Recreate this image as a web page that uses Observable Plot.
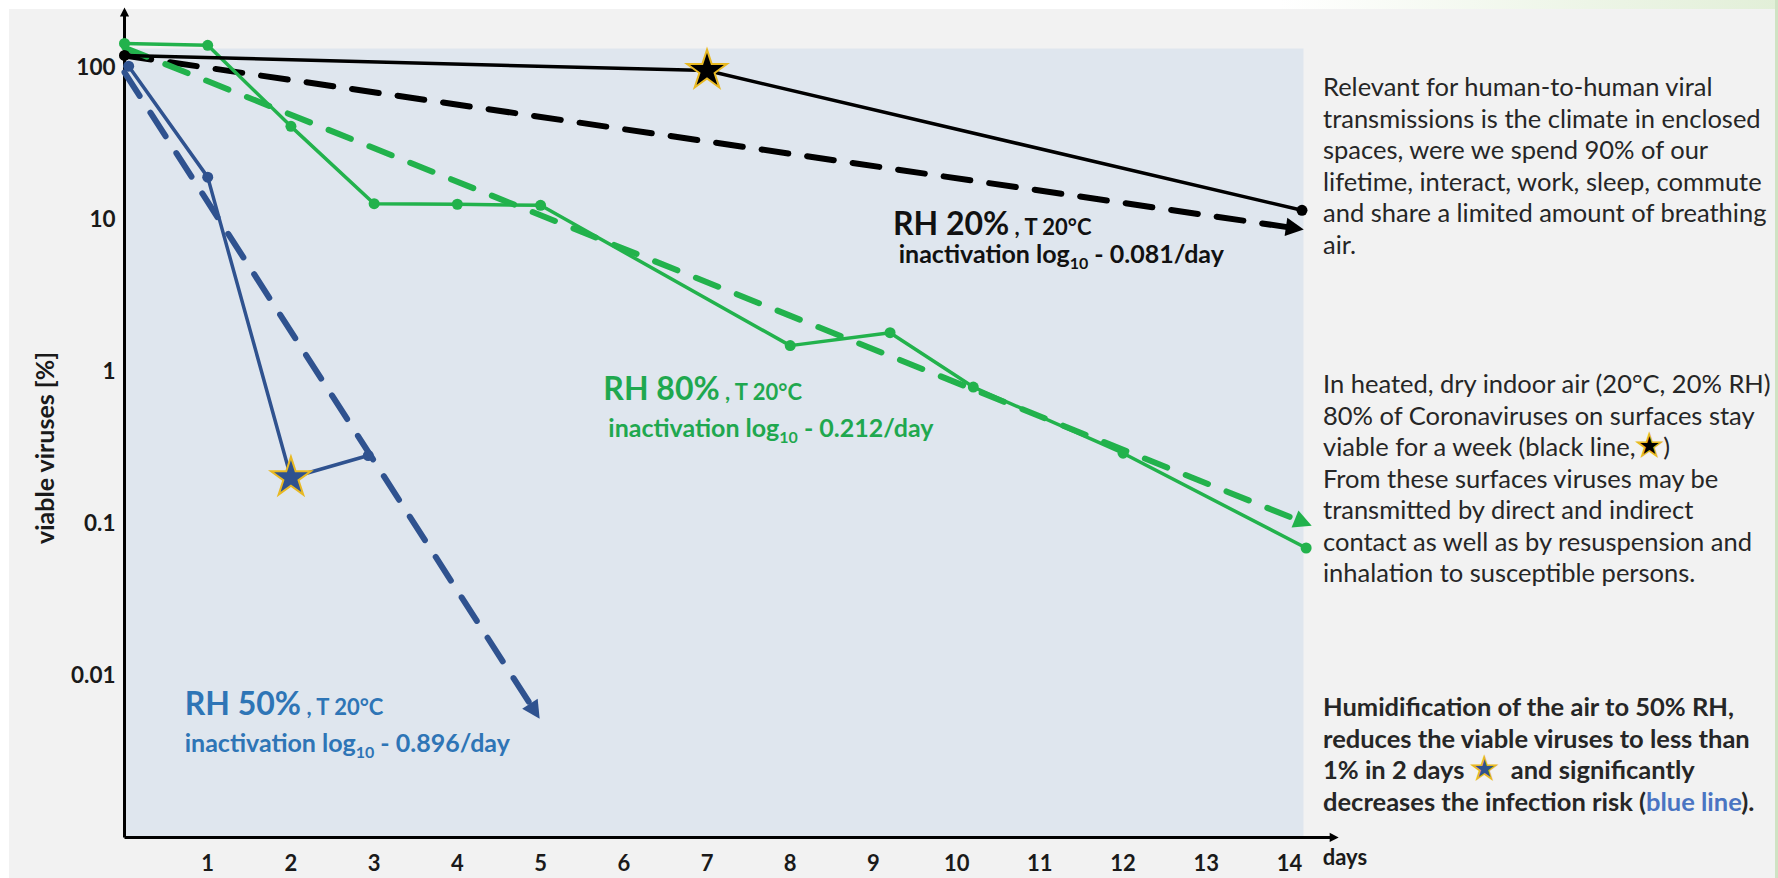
<!DOCTYPE html>
<html><head><meta charset="utf-8">
<script src="https://cdn.jsdelivr.net/npm/d3@7"></script>
<script src="https://cdn.jsdelivr.net/npm/@observablehq/plot@0.6"></script>
<style>
body{margin:0;background:#fff;font-family:Lato,"Open Sans",sans-serif;}
#page{position:relative;width:1778px;height:878px;overflow:hidden;background:linear-gradient(to right,#ffffff 72%,#e2efd8 100%);}
#panel{position:absolute;left:9px;top:9px;width:1766px;height:869px;background:#f2f2f2;}
#edge{position:absolute;right:0;top:0;width:3px;height:878px;background:#cfe3c4;}
#chart{position:absolute;left:0;top:0;}
.note{position:absolute;left:1323px;font-size:25.5px;line-height:31.5px;color:#262626;white-space:nowrap;}
.b{font-weight:bold;}
.star{font-family:"DejaVu Sans",sans-serif;font-size:31px;line-height:0;-webkit-text-stroke:1.5px #e8b923;}
</style></head>
<body>
<div id="page">
  <div id="panel"></div>
  <div id="edge"></div>
  <div id="chart"></div>
  <div class="note" style="top:71px">Relevant for human-to-human viral<br>transmissions is the climate in enclosed<br>spaces, were we spend 90% of our<br>lifetime, interact, work, sleep, commute<br>and share a limited amount of breathing<br>air.</div>
  <div class="note" style="top:368px">In heated, dry indoor air (20°C, 20% RH)<br>80% of Coronaviruses on surfaces stay<br>viable for a week (black line,<span class="star" style="color:#000">★</span>)<br>From these surfaces viruses may be<br>transmitted by direct and indirect<br>contact as well as by resuspension and<br>inhalation to susceptible persons.</div>
  <div class="note b" style="top:691px">Humidification of the air to 50% RH,<br>reduces the viable viruses to less than<br>1% in 2 days <span class="star" style="color:#2f528f">★</span>&nbsp; and significantly<br>decreases the infection risk (<span style="color:#4a74c2">blue line</span>).</div>
</div>
<script>
// ---- data ----
const days20 = [0, 7, 14.15];
const rh20 = [120, 95.5, 11.5];
const days50 = [0.05, 1, 2, 2.93];
const rh50 = [102, 19, 0.2, 0.28];
const days80 = [0, 1, 2, 3, 4, 5, 8, 9.2, 10.2, 12, 14.2];
const rh80 = [144, 140, 41, 12.7, 12.6, 12.4, 1.48, 1.8, 0.79, 0.29, 0.069];

const trendDays20 = [0, 14.1];
const trend20 = [120, 8.7];
const trendDays80 = [0, 14.2];
const trend80 = [135, 0.10];
const trendDays50 = [0, 4.95];
const trend50 = [93, 0.0056];

const starSeries = ["RH 20%", "RH 50%"];
const starDays = [7, 2];
const starValues = [95.5, 0.2];

const dayTicks = [1, 2, 3, 4, 5, 6, 7, 8, 9, 10, 11, 12, 13, 14];
const valueTicks = [100, 10, 1, 0.1, 0.01];

const labelTitles = ["RH 20%", "RH 80%", "RH 50%"];
const labelRates = ["0.081", "0.212", "0.896"];
// label anchors in data units (day, % viable)
const labelDays = [9.24, 5.76, 0.73];
const labelValues = [7.85, 0.644, 0.00545];
const rateDays = [9.31, 5.82, 0.73];
const rateValues = [5.14, 0.368, 0.00311];

// axis extents (data units)
const axisDayEnd = 14.555;
const axisValueTop = 237;
const axisValueBottom = 0.00086;
const daysLabelAt = 14.4;

// ---- styles ----
const colors = {"RH 20%": "#000000", "RH 80%": "#22b24c", "RH 50%": "#2f528f"};
const textColors = ["#111111", "#1fa84f", "#2e75b6"];

const zip = (xs, ys, s) => xs.map((x, i) => ({day: x, value: ys[i], series: s}));
const s20 = zip(days20, rh20, "RH 20%");
const s50 = zip(days50, rh50, "RH 50%");
const s80 = zip(days80, rh80, "RH 80%");
const t20 = zip(trendDays20, trend20, "RH 20%");
const t80 = zip(trendDays80, trend80, "RH 80%");
const t50 = zip(trendDays50, trend50, "RH 50%");
const stars = starDays.map((d, i) => ({day: d, value: starValues[i], series: starSeries[i]}));
const isStar = p => stars.some(s => s.series === p.series && s.day === p.day);
const dots = [...s20, ...s50, ...s80].filter(p => !isStar(p));

const plot = Plot.plot({
  width: 1778, height: 878,
  marginLeft: 123, marginRight: 475, marginTop: 48, marginBottom: 41,
  style: {background: "transparent", fontFamily: "Lato, sans-serif", overflow: "visible", color: "#1a1a1a"},
  x: {domain: [0, 14], range: [124, 1289]},
  y: {type: "log", domain: [0.01, 100], range: [675, 67]},
  marks: [
    Plot.frame({fill: "#dfe6ee", stroke: "none"}),
    Plot.axisX({ticks: dayTicks, tickSize: 0, tickPadding: 18, fontSize: 22, fontWeight: "bold", label: null, tickFormat: d => String(d)}),
    Plot.axisY({ticks: valueTicks, tickSize: 0, tickPadding: 8, fontSize: 22.5, fontWeight: "bold", label: null, tickFormat: d => String(d)}),
    Plot.text(["viable viruses [%]"], {frameAnchor: "left", textAnchor: "middle", rotate: -90, dx: -78, dy: 5, fontSize: 25, fontWeight: "bold", fill: "#1a1a1a"}),
    Plot.text(["days"], {x: () => daysLabelAt, frameAnchor: "bottom", dy: 27, textAnchor: "start", fontSize: 22, fontWeight: "bold", fill: "#1a1a1a"}),
    // axes with arrows
    Plot.link([0], {x1: 0, x2: 0, y1: () => axisValueBottom, y2: () => axisValueTop, stroke: "#000", strokeWidth: 3, markerEnd: "arrow"}),
    Plot.link([0], {x1: 0, x2: () => axisDayEnd, y1: () => axisValueBottom, y2: () => axisValueBottom, stroke: "#000", strokeWidth: 3, markerEnd: "arrow"}),
    // dashed trends
    Plot.line(t20, {x: "day", y: "value", stroke: colors["RH 20%"], strokeWidth: 6, strokeDasharray: "27,19", markerEnd: "arrow"}),
    Plot.line(t80, {x: "day", y: "value", stroke: colors["RH 80%"], strokeWidth: 6, strokeDasharray: "24,20", markerEnd: "arrow"}),
    Plot.line(t50, {x: "day", y: "value", stroke: colors["RH 50%"], strokeWidth: 6, strokeDasharray: "28,20", markerEnd: "arrow"}),
    // measured series
    Plot.line(s80, {x: "day", y: "value", stroke: colors["RH 80%"], strokeWidth: 3.5}),
    Plot.line(s50, {x: "day", y: "value", stroke: colors["RH 50%"], strokeWidth: 3.5}),
    Plot.line(s20, {x: "day", y: "value", stroke: colors["RH 20%"], strokeWidth: 3.5}),
    Plot.dot(dots, {x: "day", y: "value", r: 5.5, fill: d => colors[d.series], stroke: "none"}),
    Plot.dot(stars, {x: "day", y: "value", symbol: "star", r: 12.5, fill: d => colors[d.series], stroke: "#e8b923", strokeWidth: 2})
  ]
});
document.getElementById("chart").appendChild(plot);

// filled arrow heads
d3.select(plot).selectAll("marker").each(function () {
  const m = d3.select(this);
  const c = m.attr("stroke");
  m.attr("fill", c).attr("stroke", "none");
  m.select("path").attr("d", "M-3,-2.3L1.5,0L-3,2.3Z").attr("stroke", "none").attr("fill", c).attr("stroke-dasharray", null);
});

// annotations positioned through the plot's scales
const sx = plot.scale("x"), sy = plot.scale("y");
const ann = d3.select(plot).append("g").attr("font-family", "Lato, sans-serif").attr("font-weight", "bold").attr("text-anchor", "start");
labelTitles.forEach((title, i) => {
  const t = ann.append("text").attr("x", sx.apply(labelDays[i])).attr("y", sy.apply(labelValues[i])).attr("fill", textColors[i]);
  t.append("tspan").attr("font-size", 32).text(title);
  t.append("tspan").attr("font-size", 22).text(" , T 20°C");
  const r = ann.append("text").attr("x", sx.apply(rateDays[i])).attr("y", sy.apply(rateValues[i])).attr("fill", textColors[i]).attr("font-size", 25);
  r.append("tspan").text("inactivation log");
  r.append("tspan").attr("font-size", 16).attr("dy", 6).text("10");
  r.append("tspan").attr("dy", -6).text(" - " + labelRates[i] + "/day");
});
</script>
</body></html>
